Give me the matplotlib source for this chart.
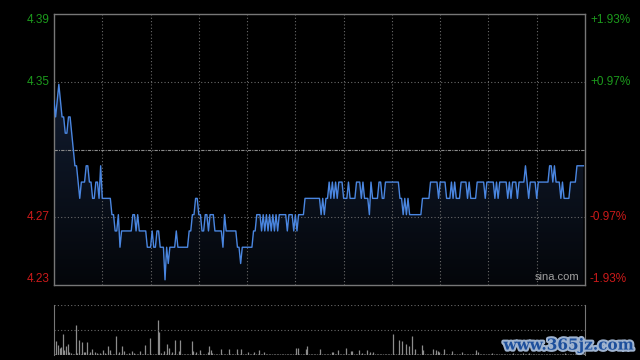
import numpy as np
import matplotlib
matplotlib.use("Agg")
import matplotlib.pyplot as plt
from matplotlib.patches import Polygon
from matplotlib.colors import LinearSegmentedColormap
import matplotlib.patheffects as pe

# ---------------- data ----------------
prev_close = 4.31
range_pct = 1.93            # half range of the price axis, percent
left_labels = ["4.39", "4.35", "4.27", "4.23"]
right_labels = ["+1.93%", "+0.97%", "-0.97%", "-1.93%"]
label_pcts = [1.93, 0.965, -0.965, -1.93]

prices = [
    4.34, 4.33, 4.34, 4.35, 4.34, 4.33, 4.33, 4.32, 4.32, 4.33,
    4.33, 4.32, 4.31, 4.30, 4.30, 4.29, 4.28, 4.29, 4.29, 4.29,
    4.30, 4.30, 4.29, 4.29, 4.28, 4.28, 4.29, 4.29, 4.28, 4.30,
    4.28, 4.28, 4.28, 4.28, 4.28, 4.28, 4.27, 4.27, 4.26, 4.26,
    4.27, 4.25, 4.26, 4.26, 4.26, 4.26, 4.26, 4.26, 4.26, 4.27,
    4.27, 4.26, 4.27, 4.26, 4.26, 4.26, 4.26, 4.26, 4.25, 4.25,
    4.25, 4.26, 4.25, 4.25, 4.26, 4.26, 4.25, 4.25, 4.25, 4.23,
    4.25, 4.24, 4.25, 4.25, 4.25, 4.25, 4.26, 4.25, 4.25, 4.25,
    4.25, 4.25, 4.25, 4.25, 4.26, 4.26, 4.27, 4.27, 4.28, 4.28,
    4.27, 4.27, 4.26, 4.26, 4.27, 4.27, 4.26, 4.27, 4.27, 4.27,
    4.26, 4.26, 4.26, 4.26, 4.26, 4.25, 4.27, 4.26, 4.26, 4.26,
    4.26, 4.26, 4.26, 4.26, 4.25, 4.25, 4.24, 4.25, 4.25, 4.25,
    4.25, 4.25, 4.25, 4.25, 4.26, 4.26, 4.27, 4.27, 4.27, 4.26,
    4.27, 4.26, 4.27, 4.26, 4.27, 4.26, 4.27, 4.26, 4.27, 4.26,
    4.27, 4.27, 4.27, 4.27, 4.27, 4.26, 4.27, 4.27, 4.27, 4.26,
    4.27, 4.26, 4.27, 4.27, 4.27, 4.27, 4.28, 4.28, 4.28, 4.28,
    4.28, 4.28, 4.28, 4.28, 4.28, 4.28, 4.27, 4.28, 4.27, 4.28,
    4.28, 4.29, 4.28, 4.29, 4.28, 4.29, 4.28, 4.29, 4.29, 4.29,
    4.28, 4.28, 4.28, 4.29, 4.28, 4.28, 4.28, 4.28, 4.29, 4.29,
    4.29, 4.28, 4.29, 4.28, 4.28, 4.28, 4.27, 4.29, 4.28, 4.28,
    4.28, 4.28, 4.29, 4.29, 4.28, 4.28, 4.29, 4.29, 4.29, 4.29,
    4.29, 4.29, 4.29, 4.29, 4.29, 4.28, 4.28, 4.27, 4.28, 4.27,
    4.28, 4.27, 4.27, 4.27, 4.27, 4.27, 4.27, 4.27, 4.27, 4.28,
    4.28, 4.28, 4.28, 4.28, 4.29, 4.29, 4.29, 4.29, 4.29, 4.28,
    4.29, 4.29, 4.29, 4.29, 4.28, 4.28, 4.28, 4.29, 4.28, 4.29,
    4.28, 4.28, 4.28, 4.29, 4.29, 4.29, 4.29, 4.28, 4.29, 4.28,
    4.28, 4.28, 4.28, 4.29, 4.29, 4.29, 4.29, 4.29, 4.28, 4.29,
    4.29, 4.29, 4.29, 4.29, 4.28, 4.29, 4.28, 4.29, 4.29, 4.29,
    4.29, 4.29, 4.28, 4.29, 4.28, 4.29, 4.29, 4.29, 4.28, 4.29,
    4.29, 4.29, 4.29, 4.30, 4.29, 4.28, 4.29, 4.29, 4.29, 4.29,
    4.28, 4.29, 4.29, 4.29, 4.29, 4.29, 4.29, 4.29, 4.30, 4.30,
    4.29, 4.30, 4.29, 4.29, 4.29, 4.28, 4.29, 4.28, 4.28, 4.28,
    4.28, 4.29, 4.29, 4.29, 4.29, 4.30, 4.30, 4.30, 4.30, 4.30,
]

volumes = [
    2, 28, 20, 15, 17, 42, 10, 18, 22, 6,
    4, 2, 3, 60, 4, 30, 2, 27, 6, 7,
    27, 2, 7, 12, 3, 6, 5, 2, 5, 3,
    10, 5, 2, 18, 11, 3, 3, 2, 38, 2,
    6, 2, 18, 9, 3, 2, 5, 2, 8, 5,
    3, 2, 2, 9, 2, 3, 20, 2, 2, 34,
    3, 2, 2, 3, 70, 47, 5, 2, 9, 3,
    22, 15, 2, 7, 3, 30, 2, 9, 30, 3,
    2, 2, 3, 2, 2, 28, 8, 2, 6, 2,
    11, 2, 3, 2, 2, 6, 18, 10, 4, 2,
    2, 3, 2, 13, 2, 2, 3, 2, 12, 2,
    2, 3, 2, 13, 2, 2, 12, 2, 3, 2,
    7, 2, 2, 3, 7, 2, 2, 10, 2, 2,
    7, 2, 3, 2, 2, 2, 3, 2, 2, 2,
    2, 2, 3, 2, 2, 2, 2, 3, 2, 2,
    14, 14, 2, 2, 3, 2, 13, 18, 2, 2,
    3, 2, 2, 2, 2, 13, 2, 3, 2, 2,
    2, 3, 7, 6, 2, 2, 10, 2, 3, 2,
    2, 15, 2, 3, 8, 8, 2, 2, 3, 10,
    2, 5, 2, 3, 10, 2, 6, 2, 6, 2,
    3, 2, 2, 2, 3, 2, 2, 2, 3, 2,
    42, 2, 2, 3, 30, 2, 28, 2, 22, 2,
    18, 3, 38, 2, 13, 2, 3, 2, 20, 10,
    2, 2, 3, 2, 2, 13, 2, 10, 8, 6,
    2, 3, 13, 2, 2, 3, 2, 8, 2, 2,
    3, 2, 2, 6, 2, 2, 3, 2, 2, 2,
    2, 3, 10, 6, 2, 2, 2, 3, 2, 2,
    2, 2, 5, 2, 3, 2, 2, 2, 2, 3,
    2, 2, 2, 3, 2, 4, 2, 3, 2, 2,
    2, 5, 2, 2, 3, 5, 2, 2, 2, 3,
    2, 2, 3, 2, 2, 2, 3, 2, 2, 2,
    3, 2, 2, 2, 3, 2, 2, 5, 2, 2,
    2, 3, 2, 2, 2, 6, 2, 2, 3, 4,
]
volume_max = 100
session_minutes = 330
grid_every = 30

# ---------------- figure ----------------
BG = "#000000"
fig = plt.figure(figsize=(6.4, 3.6), dpi=100, facecolor=BG)
plt.rcParams['font.family'] = ['Liberation Sans', 'DejaVu Sans']

W, H = 640.0, 360.0
L, R = 54, 585
ax = fig.add_axes([L / W, 1 - 285 / H, (R - L) / W, (285 - 14) / H])
axv = fig.add_axes([L / W, 1 - 355 / H, (R - L) / W, (355 - 305) / H])
for a in (ax, axv):
    a.set_facecolor(BG)
    a.set_xticks([])
    a.set_yticks([])

x = np.arange(len(prices))
p = np.array(prices)
ymin = prev_close * (1 - range_pct / 100)
ymax = prev_close * (1 + range_pct / 100)
ax.set_xlim(0, session_minutes)
ax.set_ylim(ymin, ymax)

# gradient fill under the line
grad = np.linspace(0, 1, 256).reshape(-1, 1)
cmap = LinearSegmentedColormap.from_list("g", ["#04060a", "#121d31"])
im = ax.imshow(grad, extent=[0, session_minutes, ymin, p.max()], origin="lower",
               aspect="auto", cmap=cmap, zorder=1)
poly = Polygon(np.column_stack([np.r_[x[0], x, x[-1]], np.r_[ymin, p, ymin]]),
               closed=True, transform=ax.transData, facecolor="none", edgecolor="none")
ax.add_patch(poly)
im.set_clip_path(poly)

# grid
for k in range(grid_every, session_minutes, grid_every):
    ax.axvline(k, color="#6a6a6a", lw=0.8, ls=(0, (1, 2)), zorder=2)
for pc in (0.965, -0.965):
    ax.axhline(prev_close * (1 + pc / 100), color="#6a6a6a", lw=0.8, ls=(0, (1, 2)), zorder=2)
ax.axhline(prev_close, color="#8a8a8a", lw=0.8, ls=(0, (3, 1, 1, 1)), zorder=2)

ax.plot(x, p, color="#4a86e0", lw=1.0, zorder=3)

for s in ax.spines.values():
    s.set_color("#777777")
    s.set_linewidth(1.0)

# axis labels
for lab, rlab, pc in zip(left_labels, right_labels, label_pcts):
    yv = prev_close * (1 + pc / 100)
    col = "#1c9a1c" if pc > 0 else "#cc1a1a"
    off = 0
    if pc == max(label_pcts):
        off = -6
    elif pc == min(label_pcts):
        off = 6
    ax.annotate(lab, (0, yv), xycoords=("axes fraction", "data"), xytext=(-4, off),
                textcoords="offset pixels", ha="right", va="center", color=col, fontsize=8.5)
    ax.annotate(rlab, (1, yv), xycoords=("axes fraction", "data"), xytext=(5, off),
                textcoords="offset pixels", ha="left", va="center", color=col, fontsize=8.5)

ax.text(0.99, 0.012, "sina.com", transform=ax.transAxes, ha="right", va="bottom",
        color="#a0a0a0", fontsize=8, zorder=4)

# volume
axv.set_xlim(0, session_minutes)
axv.set_ylim(0, volume_max)
axv.vlines(np.arange(len(volumes)) + 0.5, 0, volumes, color="#8c8c8c", lw=0.9)
axv.axhline(volume_max, color="#6a6a6a", lw=0.8, ls=(0, (1, 2)))
axv.axhline(volume_max / 2, color="#6a6a6a", lw=0.8, ls=(0, (1, 2)))
for side in ("top", "bottom"):
    axv.spines[side].set_visible(False)
for side in ("left", "right"):
    axv.spines[side].set_color("#777777")

# watermark
fig.text(0.99, 0.04, "www.365jz.com", ha="right", va="center", fontsize=11,
         color="#1d4f9c", fontweight="bold", family=["DejaVu Serif"],
         path_effects=[pe.withStroke(linewidth=3, foreground="#9fb3cf")])

fig.savefig("out.png", dpi=100, facecolor=BG)
